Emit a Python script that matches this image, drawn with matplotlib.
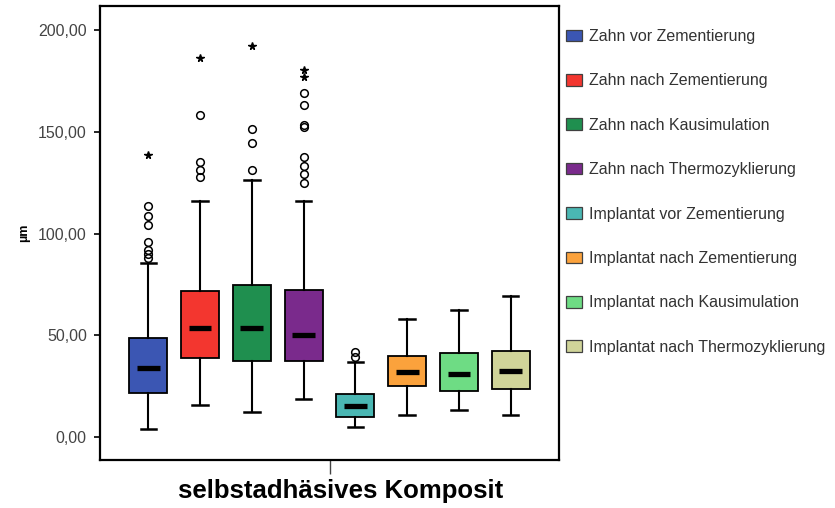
import matplotlib
matplotlib.use("Agg")
import matplotlib.pyplot as plt
from matplotlib.patches import Patch
from matplotlib.ticker import FuncFormatter
from matplotlib.transforms import ScaledTranslation

plt.rcParams['font.family'] = ['Liberation Sans', 'DejaVu Sans']

group_label = "selbstadhäsives Komposit"
series = [
    "Zahn vor Zementierung",
    "Zahn nach Zementierung",
    "Zahn nach Kausimulation",
    "Zahn nach Thermozyklierung",
    "Implantat vor Zementierung",
    "Implantat nach Zementierung",
    "Implantat nach Kausimulation",
    "Implantat nach Thermozyklierung",
]
colors = ["#3b56b3", "#f3362f", "#1f8f4f", "#7a2a8c",
          "#4ab7b3", "#fba23c", "#6edc84", "#d0d499"]

q1 = [21.7, 38.9, 37.3, 37.3, 10.0, 25.0, 22.5, 23.5]
median = [33.8, 53.6, 53.6, 50.3, 15.2, 31.9, 31.2, 32.4]
q3 = [48.5, 71.6, 74.5, 72.0, 21.0, 39.9, 41.5, 42.3]
whisker_low = [3.9, 15.7, 12.1, 18.6, 4.7, 10.6, 13.1, 10.6]
whisker_high = [85.4, 116.2, 126.5, 116.2, 36.8, 58.0, 62.4, 69.3]
# circles (outliers) and stars (extreme values)
outliers = [
    [88.0, 90.0, 92.0, 96.0, 104.0, 108.5, 113.5],
    [127.6, 131.4, 135.0, 158.0],
    [131.4, 144.3, 151.6],
    [124.7, 129.3, 133.3, 137.4, 152.5, 153.2, 163.2, 169.1],
    [39.4, 41.8],
    [], [], [],
]
extremes = [[138.6], [186.4], [192.2], [177.0, 180.5], [], [], [], []]

fig = plt.figure(figsize=(8.35, 5.08), dpi=100)
ax = fig.add_axes([100 / 835, 48 / 508, 459 / 835, 454 / 508])

positions = list(range(1, len(series) + 1))
stats = []
for i, name in enumerate(series):
    stats.append(dict(label=name, q1=q1[i], med=median[i], q3=q3[i],
                      whislo=whisker_low[i], whishi=whisker_high[i],
                      fliers=outliers[i]))

bp = ax.bxp(stats, positions=positions, widths=0.73, capwidths=0.3,
            patch_artist=True, showfliers=True,
            boxprops=dict(edgecolor="black", linewidth=1.3),
            whiskerprops=dict(color="black", linewidth=1.5),
            capprops=dict(color="black", linewidth=1.8),
            medianprops=dict(visible=False),
            flierprops=dict(marker="o", markerfacecolor="none",
                            markeredgecolor="black", markersize=5.5,
                            markeredgewidth=1.1))
for box, c in zip(bp["boxes"], colors):
    box.set_facecolor(c)

# thick median bars, narrower than the box
ax.hlines(median, [p - 0.22 for p in positions], [p + 0.22 for p in positions],
          colors="black", linewidth=3.8, zorder=4)

for p, vals in zip(positions, extremes):
    if vals:
        ax.plot([p] * len(vals), vals, linestyle="none", marker="*",
                color="black", markersize=5.5)

ax.set_xlim(0.067, 8.933)
ax.set_ylim(-11.3, 211.8)
ax.set_yticks([0, 50, 100, 150, 200])
ax.yaxis.set_major_formatter(FuncFormatter(lambda v, _: f"{v:.2f}".replace(".", ",")))
ax.tick_params(axis="y", length=4.5, width=1.2, pad=5, labelsize=11.5,
               labelcolor="#444444")
ax.set_xticks([4.5], [group_label])
ax.tick_params(axis="x", length=10, width=1.0, color="#444444", pad=4,
               labelsize=18.5)
for lbl in ax.get_xticklabels():
    lbl.set_fontweight("bold")
    lbl.set_transform(lbl.get_transform() + ScaledTranslation(0.11, 0, fig.dpi_scale_trans))
ax.set_ylabel("µm", fontsize=9, fontweight="bold", labelpad=6)

for s in ax.spines.values():
    s.set_linewidth(1.6)

handles = [Patch(facecolor=c, edgecolor="#404040", linewidth=0.9) for c in colors]
fig.legend(handles, series, loc="upper left",
           bbox_to_anchor=(566 / 835, 1 - 29 / 508),
           bbox_transform=fig.transFigure, frameon=False,
           fontsize=11.5, handlelength=1.0, handleheight=0.75,
           handletextpad=0.45, labelspacing=1.84, borderpad=0,
           borderaxespad=0, labelcolor="#333333")

fig.savefig("out.png", dpi=100)
